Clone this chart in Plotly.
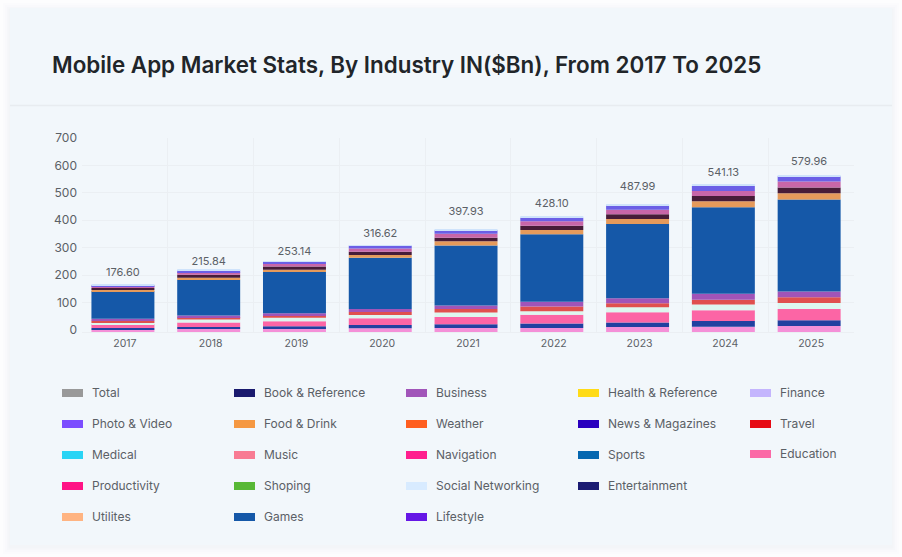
import plotly.graph_objects as go

years = ["2017", "2018", "2019", "2020", "2021", "2022", "2023", "2024", "2025"]
totals = [176.60, 215.84, 253.14, 316.62, 397.93, 428.10, 487.99, 541.13, 579.96]

lifestyle = [8, 11, 14, 14, 15, 15, 18, 19, 22]
book = [7, 7, 7, 12, 13, 16, 17, 21, 21]
education = [14, 17, 18, 24, 27, 32, 37, 39, 41]
social = [7, 11, 13, 12, 16, 13, 18, 21, 22]
travel = [5, 8, 9, 11, 13, 17, 15, 18, 21]
business = [7, 6, 7, 11, 13, 17, 18, 22, 21]
games = [101, 131, 151, 187, 219, 247, 271, 315, 336]
food = [5, 7, 8, 10, 15, 15, 18, 22, 22]
entertainment = [7, 11, 12, 12, 13, 16, 18, 19, 21]
music = [5, 9, 9, 12, 15, 16, 16, 19, 22]
photo = [5, 7, 9, 10, 12, 13, 17, 18, 19]
finance = [2, 2, 2, 2, 4, 4, 4, 4, 4]

stack = [
    ("Lifestyle", lifestyle, "#F490D8"),
    ("Book & Reference", book, "#2140A0"),
    ("Education", education, "#FC65A5"),
    ("Social Networking", social, "#DDF7EF"),
    ("Travel", travel, "#E0504E"),
    ("Business", business, "#A154B8"),
    ("Games", games, "#1558A8"),
    ("Food & Drink", food, "#E59A5B"),
    ("Entertainment", entertainment, "#471C38"),
    ("Music", music, "#C866A8"),
    ("Photo & Video", photo, "#6B5FE6"),
    ("Finance", finance, "#CFE3FB"),
]

legend_rows = [
    [("Total", "#999999"), ("Book & Reference", "#1A1A6E"), ("Business", "#A155B9"), ("Health & Reference", "#FFDB17"), ("Finance", "#C4B5FD")],
    [("Photo & Video", "#7C4DFF"), ("Food & Drink", "#F59842"), ("Weather", "#FF5E1F"), ("News & Magazines", "#2A00BF"), ("Travel", "#E60A14")],
    [("Medical", "#2AD4F5"), ("Music", "#F87B93"), ("Navigation", "#FF1F8E"), ("Sports", "#0567B0"), ("Education", "#FB69A6")],
    [("Productivity", "#FF1385"), ("Shoping", "#58B836"), ("Social Networking", "#D8EBFF"), ("Entertainment", "#1B1B72")],
    [("Utilites", "#FFB482"), ("Games", "#1558A8"), ("Lifestyle", "#6617E6")],
]

W, H = 902, 557
L, R, T, B = 82, 854, 138, 332
AXIS_FLOOR = -8
GRID = "#EBEFF3"
TXT = "#5B6066"
FONT = "Inter"
px = lambda x: (x - L) / (R - L)
py = lambda y: (B - y) / (B - T)
X_POS = list(range(len(years)))

fig = go.Figure()
running = [AXIS_FLOOR] * len(years)
for name, vals, col in stack:
    fig.add_bar(
        x=X_POS, y=vals, name=name, marker=dict(color=col, line=dict(width=0)),
        width=0.734, offset=-0.39, base=list(running),
    )
    running = [b + v for b, v in zip(running, vals)]
fig.add_scatter(
    x=[p - 0.023 for p in X_POS], y=totals, name="Total", mode="markers+text",
    marker=dict(size=3, opacity=0),
    text=[f"{t:.2f}" for t in totals], textposition="top center",
    textfont=dict(family=FONT, size=11, color=TXT),
)

shapes = []
for g, a in [(10, 0.006), (7, 0.007), (5, 0.008), (3, 0.01), (1.5, 0.012)]:
    shapes.append(dict(type="rect", xref="paper", yref="paper", layer="below",
                       x0=px(10 - g), x1=px(892 + g), y0=py(8 - g + 2), y1=py(545 + g + 2),
                       line_width=0, fillcolor=f"rgba(30,50,80,{a})"))
shapes.append(dict(type="rect", xref="paper", yref="paper", layer="below",
                   x0=px(10), x1=px(892), y0=py(8), y1=py(545),
                   line_width=0, fillcolor="#F2F7FB"))
shapes.append(dict(type="line", xref="paper", yref="paper", layer="below",
                   x0=px(10), x1=px(892), y0=py(105.5), y1=py(105.5),
                   line=dict(color="#E8ECF0", width=1.5)))

annotations = []
for r, row in enumerate(legend_rows):
    for c, (label, col) in enumerate(row):
        lx = 62 + 172 * c
        ly = 393 + 31 * r - (1 if label == "Education" else 0)
        shapes.append(dict(type="rect", xref="paper", yref="paper",
                           x0=px(lx), x1=px(lx + 21), y0=py(ly - 4), y1=py(ly + 4),
                           line_width=0, fillcolor=col))
        annotations.append(dict(xref="paper", yref="paper", x=px(lx + 28), y=py(ly - 0.7),
                                xanchor="left", yanchor="middle", showarrow=False, text=label,
                                font=dict(family=FONT, size=12, color=TXT)))

fig.update_layout(
    width=W, height=H, autosize=False, showlegend=False, barmode="overlay",
    paper_bgcolor="#FFFFFF", plot_bgcolor="rgba(0,0,0,0)",
    margin=dict(l=L, r=W - R, t=T, b=H - B),
    title=dict(text="Mobile App Market Stats, By Industry IN($Bn), From 2017 To 2025",
               x=52 / W, xref="container", xanchor="left", y=1 - 65 / H, yref="container", yanchor="middle",
               font=dict(family=FONT, size=22.4, weight=600, color="#212529")),
    xaxis=dict(range=[-0.5, 8.5], tickmode="array", tickvals=X_POS, ticktext=years,
               showgrid=False, zeroline=False, showline=True, linecolor=GRID, linewidth=1,
               ticks="", ticklabelstandoff=1, tickfont=dict(family=FONT, size=10.5, color=TXT),
               minor=dict(tickmode="array", tickvals=[p - 0.5 for p in X_POS] + [8.5],
                          showgrid=True, gridcolor=GRID, gridwidth=1, ticks="")),
    yaxis=dict(range=[AXIS_FLOOR, 700], tickmode="array", tickvals=[0, 100, 200, 300, 400, 500, 600, 700],
               showgrid=False, zeroline=False, showline=False, ticks="", ticklabelstandoff=4,
               tickfont=dict(family=FONT, size=12, color=TXT),
               minor=dict(tickmode="array", tickvals=[100, 200, 300, 400, 500, 600, 700],
                          showgrid=True, gridcolor=GRID, gridwidth=1, ticks="")),
    shapes=shapes, annotations=annotations,
)

fig.write_html("out.html", config={"displayModeBar": False}, post_script="document.body.style.margin='0';")
